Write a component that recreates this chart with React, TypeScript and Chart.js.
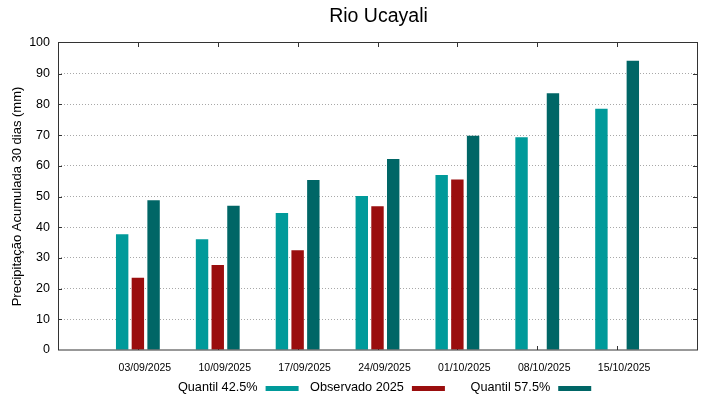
import React, { useEffect, useRef } from "react";
import { Chart, registerables } from "chart.js";

Chart.register(...registerables);

const TITLE = "Rio Ucayali";
const Y_TITLE = "Precipitação Acumulada 30 dias (mm)";
const dates = ["03/09/2025", "10/09/2025", "17/09/2025", "24/09/2025", "01/10/2025", "08/10/2025", "15/10/2025"];
const q425 = [37.7, 36.1, 44.6, 50.2, 57.0, 69.3, 78.6];
const observado = [23.5, 27.7, 32.5, 46.8, 55.5, null, null];
const q575 = [48.8, 47.0, 55.4, 62.2, 69.8, 83.6, 94.2];
const seriesNames = ["Quantil 42.5%", "Observado 2025", "Quantil 57.5%"];
const seriesColors = ["#009a9a", "#9a0e0e", "#006666"];

const FONT = "'Liberation Sans', Arial, sans-serif";

// pad with empty categories at both ends (axis runs from -1 to 7)
const pad = <T,>(arr: T[]): (T | null)[] => [null, ...arr, null];
const labels = ["", ...dates, ""];

const framePlugin = {
  id: "framePlugin",
  beforeDatasetsDraw(chart: any) {
    const { ctx, chartArea, scales } = chart;
    const { left, right, top, bottom } = chartArea;
    ctx.save();
    ctx.strokeStyle = "#333333";
    ctx.lineWidth = 1;
    ctx.beginPath();
    scales.y.ticks.forEach((t: any) => {
      const y = Math.round(scales.y.getPixelForValue(t.value)) + 0.5;
      if (t.value === 0 || t.value === 100) return;
      ctx.moveTo(left, y);
      ctx.lineTo(left + 4, y);
      ctx.moveTo(right - 4, y);
      ctx.lineTo(right, y);
    });
    for (let i = 1; i <= dates.length; i++) {
      const x = Math.round(scales.x.getPixelForValue(i)) + 0.5;
      ctx.moveTo(x, top);
      ctx.lineTo(x, top + 4);
      ctx.moveTo(x, bottom);
      ctx.lineTo(x, bottom - 4);
    }
    ctx.stroke();
    ctx.restore();
  },
  afterDraw(chart: any) {
    const { ctx, chartArea } = chart;
    const { left, right, top, bottom } = chartArea;
    ctx.save();
    ctx.strokeStyle = "#333333";
    ctx.lineWidth = 1;
    ctx.strokeRect(Math.round(left) + 0.5, Math.round(top) - 0.5, Math.round(right - left), Math.round(bottom - top) + 0.5);

    const cx = (left + right) / 2;
    ctx.fillStyle = "#000000";
    ctx.font = `19.5px ${FONT}`;
    ctx.textAlign = "center";
    ctx.textBaseline = "alphabetic";
    ctx.fillText(TITLE, cx + 1, 22);

    ctx.font = `12.7px ${FONT}`;
    const widths = seriesNames.map((n) => ctx.measureText(n).width);
    const maxW = Math.max(...widths);
    const gap = 8, sw = 33, sh = 5, colGap = 11.5;
    const colW = maxW + gap + sw + colGap;
    const total = colW * seriesNames.length - colGap;
    const start = cx - total / 2;
    ctx.textAlign = "right";
    ctx.textBaseline = "middle";
    seriesNames.forEach((n, i) => {
      const tr = start + i * colW + maxW;
      ctx.fillStyle = "#000000";
      ctx.fillText(n, tr, 387);
      ctx.fillStyle = seriesColors[i];
      ctx.fillRect(tr + gap, 386, sw, sh);
    });
    ctx.restore();
  },
};

export default function App() {
  const ref = useRef<HTMLCanvasElement | null>(null);
  useEffect(() => {
    if (!ref.current) return;
    const chart = new Chart(ref.current, {
      type: "bar",
      data: {
        labels,
        datasets: [
          { label: seriesNames[0], data: pad(q425), backgroundColor: seriesColors[0] },
          { label: seriesNames[1], data: pad(observado), backgroundColor: seriesColors[1] },
          { label: seriesNames[2], data: pad(q575), backgroundColor: seriesColors[2] },
        ],
      },
      options: {
        animation: false,
        responsive: false,
        layout: { padding: { top: 43, right: 22, left: 0, bottom: 0 } },
        datasets: { bar: { categoryPercentage: 0.59, barPercentage: 0.79 } },
        plugins: {
          legend: { display: false },
          title: { display: false },
          tooltip: { enabled: false },
        },
        scales: {
          x: {
            offset: false,
            grid: { display: false, drawTicks: false },
            border: { display: false },
            ticks: {
              autoSkip: false,
              maxRotation: 0,
              labelOffset: 7,
              padding: 12,
              color: "#000000",
              font: { family: FONT, size: 10.5 },
            },
            afterFit: (s: any) => { s.height = 49; },
          },
          y: {
            min: 0,
            max: 100,
            grid: {
              drawTicks: false,
              color: (c: any) => (c.tick && (c.tick.value === 0 || c.tick.value === 100) ? "rgba(0,0,0,0)" : "#a8a8a8"),
              lineWidth: 1,
            },
            border: { display: false, dash: [1, 2] },
            ticks: {
              stepSize: 10,
              padding: 8,
              color: "#000000",
              font: { family: FONT, size: 12.5 },
            },
            title: {
              display: true,
              text: Y_TITLE,
              color: "#000000",
              font: { family: FONT, size: 13 },
              padding: { top: 10, bottom: 0 },
            },
            afterFit: (s: any) => { s.width = 58; },
          },
        },
      },
      plugins: [framePlugin],
    });
    return () => chart.destroy();
  }, []);
  return (
    <div style={{ position: "absolute", left: 0, top: 0, width: 719, height: 399, background: "#ffffff" }}>
      <canvas ref={ref} width={719} height={399} />
    </div>
  );
}
